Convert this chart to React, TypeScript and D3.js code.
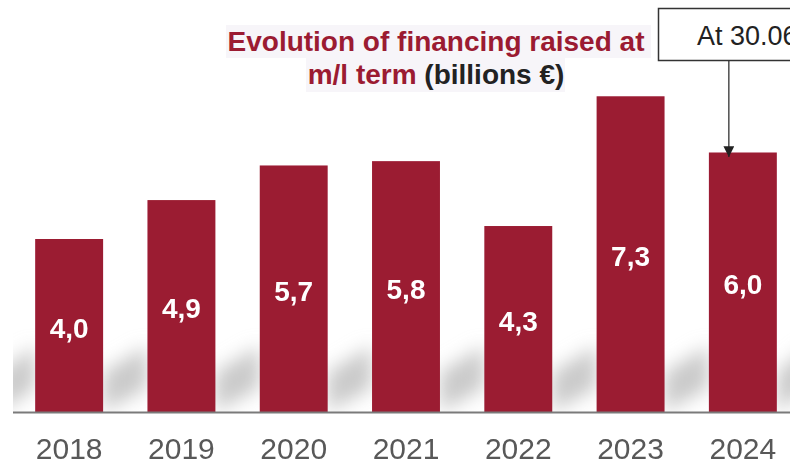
import React from 'react'
import * as d3 from 'd3'

const years = ['2018', '2019', '2020', '2021', '2022', '2023', '2024']
const values = [4.0, 4.9, 5.7, 5.8, 4.3, 7.3, 6.0]
const valueLabels = ['4,0', '4,9', '5,7', '5,8', '4,3', '7,3', '6,0']

const W = 790
const H = 466
const BASE = 412
const BAR = '#9b1b32'

export default function App() {
  const x = d3.scaleBand<string>()
    .domain(years)
    .range([13, 799])
    .paddingInner(0.395)
    .paddingOuter(0.1975)
  const y = d3.scaleLinear().domain([0, 8]).range([BASE, BASE - 8 * 43.25])
  const bw = x.bandwidth()

  // diagonal grey shadow in every gap between bars
  const gaps: [number, number][] = []
  years.forEach((yr, i) => {
    const left = i === 0 ? 0 : (x(years[i - 1]) as number) + bw
    gaps.push([left, x(yr) as number])
  })
  gaps.push([(x(years[years.length - 1]) as number) + bw, W + 20])

  const last = years.length - 1
  const arrowX = (x(years[last]) as number) + bw / 2 - 14

  return (
    <svg width={W} height={H} style={{ position: 'absolute', left: 0, top: 0, background: '#fff' }}
      fontFamily="Arial, 'Liberation Sans', sans-serif">
      <defs>
        <filter id="sh" x="-30%" y="-80%" width="160%" height="260%">
          <feGaussianBlur stdDeviation="9" />
        </filter>
        <filter id="soft" x="-5%" y="-5%" width="110%" height="110%">
          <feGaussianBlur stdDeviation="0.55" />
        </filter>
        <clipPath id="shclip">
          <rect x={13} y={320} width={W} height={BASE - 320} />
        </clipPath>
        <marker id="arr" viewBox="0 0 10 10" refX="10" refY="5" markerWidth="9" markerHeight="9" orient="auto">
          <path d="M0,0 L10,5 L0,10 z" fill="#222" />
        </marker>
      </defs>

      <g clipPath="url(#shclip)">
        <g filter="url(#sh)">
          {gaps.map(([l, r], i) => (
            <polygon key={i}
              points={`${l},${372} ${r},${346} ${r},${388} ${l},${412}`}
              fill="#cacaca" />
          ))}
        </g>
      </g>

      <g filter="url(#soft)">
        {years.map((yr, i) => (
          <rect key={yr} x={x(yr)} y={y(values[i])} width={bw} height={BASE - y(values[i])} fill={BAR} />
        ))}
        {years.map((yr, i) => (
          <text key={'v' + yr} x={(x(yr) as number) + bw / 2} y={(y(values[i]) + BASE) / 2 + 12}
            textAnchor="middle" fill="#fff" fontSize={28} fontWeight="bold"
            fontFamily="'Liberation Sans Narrow', 'Arial Narrow', Arial, sans-serif">
            {valueLabels[i]}
          </text>
        ))}
      </g>

      <line x1={13} x2={W} y1={BASE + 0.5} y2={BASE + 0.5} stroke="#7a7a7a" strokeWidth={2} />

      <g filter="url(#soft)">
        {years.map(yr => (
          <text key={'x' + yr} x={(x(yr) as number) + bw / 2} y={459} textAnchor="middle"
            fill="#595959" fontSize={30}>
            {yr}
          </text>
        ))}
      </g>

      <rect x={226} y={25} width={425} height={33} fill="#f7f5f9" />
      <rect x={306} y={58} width={259} height={34} fill="#f7f5f9" />
      <text x={436} y={51} textAnchor="middle" fontSize={28} fontWeight="bold" fill={BAR}>
        Evolution of financing raised at
      </text>
      <text x={436} y={84} textAnchor="middle" fontSize={28} fontWeight="bold">
        <tspan fill={BAR}>m/l term </tspan>
        <tspan fill="#222">(billions €)</tspan>
      </text>

      <rect x={658.5} y={8.5} width={150} height={52} fill="#fff" stroke="#333" strokeWidth={1.5} />
      <text x={697} y={45} fontSize={27} fill="#222">At 30.06</text>
      <line x1={arrowX} x2={arrowX} y1={61} y2={157} stroke="#222" strokeWidth={1.2} markerEnd="url(#arr)" />
    </svg>
  )
}
